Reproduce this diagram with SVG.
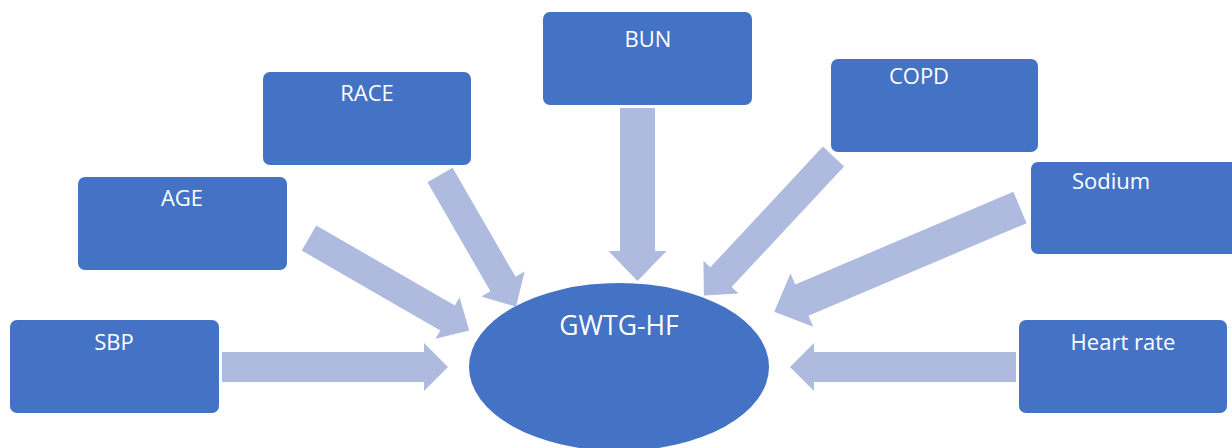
<svg xmlns="http://www.w3.org/2000/svg" width="1232" height="448" viewBox="0 0 1232 448">
  <style>
    .box { fill: #4472C4; }
    .lbl { fill: #FFFFFF; font-family: "Open Sans", "Noto Sans", sans-serif; font-size: 22px; text-anchor: middle; }
    .big { font-size: 26.5px; }
    .arr { fill: #AEBBDF; }
  </style>
  <rect width="1232" height="448" fill="#FFFFFF"/>
  <g id="connectors">
    <polygon class="arr" transform="translate(222,367)" points="0,-15 202,-15 202,-24 226,0 202,24 202,15 0,15"/>
    <polygon class="arr" transform="translate(1016,367) rotate(180)" points="0,-15 202,-15 202,-24 226,0 202,24 202,15 0,15"/>
    <polygon class="arr" transform="translate(637.5,108) rotate(90)" points="0,-17.5 143,-17.5 143,-29 173,0 143,29 143,17.5 0,17.5"/>
    <polygon class="arr" transform="translate(309,238) rotate(30)" points="0,-14.5 160,-14.5 160,-24 185,0 160,24 160,14.5 0,14.5"/>
    <polygon class="arr" transform="translate(440,175) rotate(60)" points="0,-14.5 126,-14.5 126,-25 152,0 126,25 126,14.5 0,14.5"/>
    <polygon class="arr" transform="translate(833.5,156.5) rotate(133)" points="0,-14.5 165,-14.5 165,-24 190,0 165,24 165,14.5 0,14.5"/>
    <polygon class="arr" transform="translate(1020,207.5) rotate(157)" points="0,-17 237,-17 237,-29 267,0 237,29 237,17 0,17"/>
  </g>
  <g id="sbp">
    <rect class="box" x="10" y="320" width="209" height="93" rx="7"/>
    <text class="lbl" x="114" y="350">SBP</text>
  </g>
  <g id="age">
    <rect class="box" x="78" y="177" width="209" height="93" rx="7"/>
    <text class="lbl" x="182" y="206">AGE</text>
  </g>
  <g id="race">
    <rect class="box" x="263" y="72" width="208" height="93" rx="7"/>
    <text class="lbl" x="367" y="101">RACE</text>
  </g>
  <g id="bun">
    <rect class="box" x="543" y="12" width="209" height="93" rx="7"/>
    <text class="lbl" x="648" y="47">BUN</text>
  </g>
  <g id="copd">
    <rect class="box" x="831" y="59" width="207" height="93" rx="7"/>
    <text class="lbl" x="919" y="84">COPD</text>
  </g>
  <g id="sodium">
    <rect class="box" x="1031" y="162" width="208" height="92" rx="7"/>
    <text class="lbl" x="1111" y="189">Sodium</text>
  </g>
  <g id="heart-rate">
    <rect class="box" x="1019" y="320" width="208" height="93" rx="7"/>
    <text class="lbl" x="1123" y="350">Heart rate</text>
  </g>
  <g id="gwtg-hf">
    <ellipse class="box" cx="619" cy="367" rx="150" ry="84"/>
    <text class="lbl big" x="619" y="335">GWTG-HF</text>
  </g>
</svg>
